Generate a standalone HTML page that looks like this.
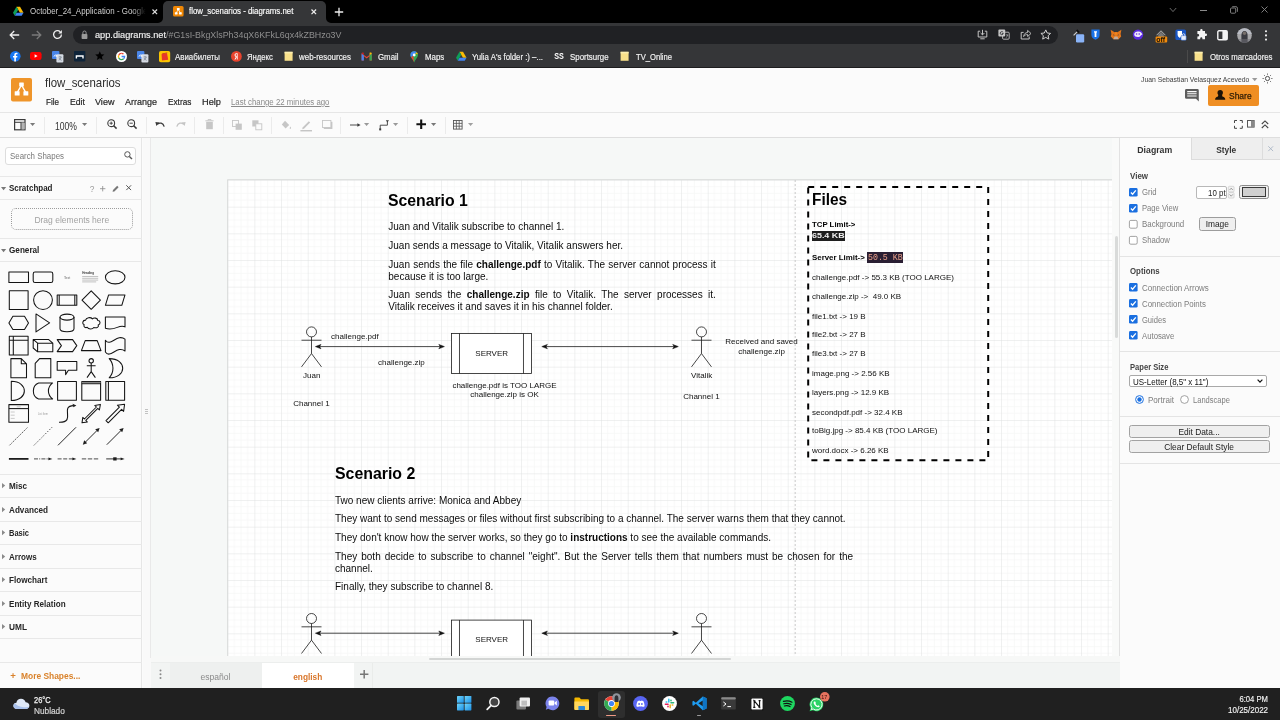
<!DOCTYPE html>
<html><head><meta charset="utf-8"><title>flow_scenarios - diagrams.net</title>
<style>
*{box-sizing:border-box;margin:0;padding:0}
html,body{width:1280px;height:720px;overflow:hidden;background:#fbfbfb;font-family:"Liberation Sans",sans-serif;}
#root{position:relative;width:1280px;height:720px;overflow:hidden;will-change:transform}
.abs{position:absolute}
svg{overflow:visible}
.t{position:absolute;white-space:nowrap;line-height:1;font-family:"Liberation Sans",sans-serif}
</style></head><body><div id="root">
<!-- chrome -->
<div class="abs" style="left:0px;top:0px;width:1280px;height:23px;background:#000"></div>
<div class="abs" style="left:163px;top:1px;width:163px;height:22px;background:#353638;border-radius:5px 5px 0 0"></div>
<svg class="abs" style="left:158px;top:18px;" width="5" height="5" viewBox="0 0 5 5"><path d="M5 0 V5 H0 A5 5 0 0 0 5 0Z" fill="#353638"/></svg>
<svg class="abs" style="left:326px;top:18px;" width="5" height="5" viewBox="0 0 5 5"><path d="M0 0 V5 H5 A5 5 0 0 1 0 0Z" fill="#353638"/></svg>
<div class="abs" style="left:0px;top:22.9px;width:1280px;height:45.1px;background:#353638"></div>
<div class="abs" style="left:0px;top:67.2px;width:1280px;height:1px;background:#1d1d1e"></div>
<svg class="abs" style="left:13.45px;top:6.25px;" width="10.5" height="10.5" viewBox="0 0 10 10"><path d="M3.3 0.6 L6.7 0.6 L10 6.4 L6.6 6.4Z" fill="#fbbc04"/><path d="M3.3 0.6 L0 6.4 L1.7 9.4 L5 3.5Z" fill="#0f9d58"/><path d="M3.4 6.4 L10 6.4 L8.3 9.4 L1.7 9.4Z" fill="#4285f4"/></svg>
<span class="t" style="left:29.60px;top:7.44px;font-size:8.7px;color:#cfcfcf;transform:scaleX(0.9133);transform-origin:0 50%;-webkit-mask-image:linear-gradient(90deg,#000 88%,transparent 99%);">October_24_Application - Google</span>
<svg class="abs" style="left:151.89999999999998px;top:8.7px;" width="5.6" height="5.6" viewBox="0 0 5.6 5.6"><path d="M0.5 0.5 L5.1 5.1 M5.1 0.5 L0.5 5.1" stroke="#ddd" stroke-width="1.2" fill="none"/></svg>
<svg class="abs" style="left:172.6px;top:6.2px;" width="10.6" height="10.6" viewBox="0 0 24 24"><rect x="0" y="0" width="24" height="24" rx="3.62" fill="#f08705"/><path d="M12 8 L7.4 15.6 M12 8 L16.6 15.6" stroke="#fff" stroke-width="1.7"/><rect x="9" y="4.6" width="6" height="5" rx="0.8" fill="#fff"/><rect x="4.2" y="14" width="6.2" height="5" rx="0.8" fill="#fff"/><rect x="13.6" y="14" width="6.2" height="5" rx="0.8" fill="#fff"/></svg>
<span class="t" style="left:189.00px;top:7.44px;font-size:8.7px;color:#fff;transform:scaleX(0.9042);transform-origin:0 50%;-webkit-text-stroke:0.15px #fff;">flow_scenarios - diagrams.net</span>
<svg class="abs" style="left:311.2px;top:8.7px;" width="5.6" height="5.6" viewBox="0 0 5.6 5.6"><path d="M0.5 0.5 L5.1 5.1 M5.1 0.5 L0.5 5.1" stroke="#eee" stroke-width="1.2" fill="none"/></svg>
<svg class="abs" style="left:334px;top:6.5px;" width="10" height="10" viewBox="0 0 10 10"><path d="M5 0.8 V9.2 M0.8 5 H9.2" stroke="#eee" stroke-width="1.3"/></svg>
<svg class="abs" style="left:1168.5px;top:6.5px;" width="8" height="6" viewBox="0 0 8 6"><path d="M0.8 1 L4 4.6 L7.2 1" stroke="#777" stroke-width="0.9" fill="none"/></svg>
<div class="abs" style="left:1199.5px;top:9.5px;width:7px;height:1px;background:#8a8a8a"></div>
<svg class="abs" style="left:1230px;top:6px;" width="8" height="8" viewBox="0 0 8 8"><rect x="0.5" y="2" width="5.2" height="5.2" rx="1" stroke="#8a8a8a" stroke-width="0.9" fill="none"/><path d="M2.2 0.7 H6 A1.4 1.4 0 0 1 7.4 2.1 V5.8" stroke="#8a8a8a" stroke-width="0.9" fill="none"/></svg>
<svg class="abs" style="left:1261.0px;top:6.199999999999999px;" width="7" height="7" viewBox="0 0 7 7"><path d="M0.5 0.5 L6.5 6.5 M6.5 0.5 L0.5 6.5" stroke="#8a8a8a" stroke-width="0.9" fill="none"/></svg>
<svg class="abs" style="left:9.3px;top:29.700000000000003px;" width="11" height="10" viewBox="0 0 11 10"><g ><path d="M10.2 5 H1.4 M5.2 1 L1.2 5 L5.2 9" stroke="#f0f0f0" stroke-width="1.3" fill="none"/></g></svg>
<svg class="abs" style="left:30.5px;top:29.700000000000003px;" width="11" height="10" viewBox="0 0 11 10"><g transform="translate(11,0) scale(-1,1)"><path d="M10.2 5 H1.4 M5.2 1 L1.2 5 L5.2 9" stroke="#7a7a7a" stroke-width="1.3" fill="none"/></g></svg>
<svg class="abs" style="left:51.5px;top:29.2px;" width="11" height="11" viewBox="0 0 11 11"><path d="M9.4 5.5 A3.9 3.9 0 1 1 8.2 2.7" stroke="#f0f0f0" stroke-width="1.3" fill="none"/><path d="M9.9 0.9 V4.4 H6.4Z" fill="#f0f0f0"/></svg>
<div class="abs" style="left:73px;top:25.5px;width:985px;height:18.5px;background:#202124;border-radius:9.5px"></div>
<svg class="abs" style="left:80.5px;top:29.5px;" width="7" height="9.5" viewBox="0 0 7 9.5"><rect x="0.6" y="4" width="5.8" height="5" rx="0.8" fill="#9a9a9a"/><path d="M1.9 4.2 V2.6 A1.6 1.6 0 0 1 5.1 2.6 V4.2" stroke="#9a9a9a" stroke-width="1" fill="none"/></svg>
<span class="t" style="left:94.50px;top:29.94px;font-size:9.8px;color:#f2f2f2;transform:scaleX(0.9376);transform-origin:0 50%;-webkit-text-stroke:0.15px #f2f2f2;">app.diagrams.net</span>
<span class="t" style="left:165.80px;top:29.94px;font-size:9.8px;color:#8f8f8f;transform:scaleX(0.9051);transform-origin:0 50%;">/#G1sI-BkgXlsPh34qX6KFkL6qx4kZBHzo3V</span>
<svg class="abs" style="left:977px;top:28.9px;" width="11" height="11" viewBox="0 0 11 11"><path d="M1.2 2.2 H3.2 M7.8 2.2 H9.8 V8 H1.2 V2.2" stroke="#c4c4c4" stroke-width="1" fill="none"/><path d="M5.5 0.8 V5.8 M3.6 4 L5.5 5.9 L7.4 4" stroke="#c4c4c4" stroke-width="1" fill="none"/><path d="M3.3 9.8 H7.7" stroke="#c4c4c4" stroke-width="1"/></svg>
<svg class="abs" style="left:998px;top:28.9px;" width="12" height="11" viewBox="0 0 12 11"><rect x="4.6" y="3.2" width="6.6" height="7" rx="1" stroke="#c4c4c4" stroke-width="0.9" fill="none"/><rect x="0.4" y="0.6" width="6.8" height="7" rx="1" fill="#c8c8c8"/><path d="M5.2 3.4 C4.6 2.2 2.2 2.4 2.2 4.2 C2.2 6 4.8 6.2 5.3 4.6 H3.8" stroke="#202124" stroke-width="0.8" fill="none"/><path d="M8 6 H10 M9 5.4 V6 M9.8 6 C9.4 7.6 8.6 8.2 7.8 8.6" stroke="#c4c4c4" stroke-width="0.6" fill="none"/></svg>
<svg class="abs" style="left:1019.5px;top:28.9px;" width="12" height="11" viewBox="0 0 12 11"><path d="M3.6 3.4 H1.2 V10 H9.2 V7.6" stroke="#c4c4c4" stroke-width="1" fill="none"/><path d="M3.6 7.6 C3.8 5 5.4 3.6 7.6 3.5 V1.4 L11 4.5 L7.6 7.5 V5.5 C6 5.5 4.6 6.1 3.6 7.6Z" stroke="#c4c4c4" stroke-width="0.9" fill="none"/></svg>
<svg class="abs" style="left:1040.3px;top:28.7px;" width="11.5" height="11" viewBox="0 0 11.5 11"><path d="M5.75 0.9 L7.2 4 L10.6 4.4 L8.1 6.7 L8.8 10.1 L5.75 8.4 L2.7 10.1 L3.4 6.7 L0.9 4.4 L4.3 4Z" stroke="#d0d0d0" stroke-width="1" fill="none" stroke-linejoin="round"/></svg>
<svg class="abs" style="left:1071.5px;top:29px;" width="13" height="14" viewBox="0 0 13 14"><path d="M1.6 6.4 L5.6 2.4" stroke="#cfcfcf" stroke-width="1.2"/><path d="M4.6 1 L7.2 3.6" stroke="#111" stroke-width="1.8"/><rect x="4" y="5.2" width="8.2" height="8.2" rx="1.2" fill="#8ab4f8"/></svg>
<svg class="abs" style="left:1090.5px;top:29px;" width="9" height="11" viewBox="0 0 9 11"><path d="M0.4 0.4 H8.6 V6 C8.6 8.4 6.6 10 4.5 10.8 C2.4 10 0.4 8.4 0.4 6Z" fill="#1a73e8"/><path d="M3 2.2 H6 V3.4 H5.4 V8 H3.6 V3.4 H3Z" fill="#fff"/></svg>
<svg class="abs" style="left:1109.5px;top:29px;" width="12" height="11" viewBox="0 0 12 11"><path d="M0.6 0.8 L4.6 3.2 H7.4 L11.4 0.8 L10.6 5 L11.2 7.6 L8.6 10.2 H3.4 L0.8 7.6 L1.4 5Z" fill="#e2761b"/><path d="M3.4 10.2 L4.6 7.6 H7.4 L8.6 10.2Z" fill="#c0ad9e"/><path d="M4.6 3.2 L6 7 L7.4 3.2Z" fill="#f6851b"/><path d="M3.2 5.2 L4.6 6.2 L3.6 6.6Z M8.8 5.2 L7.4 6.2 L8.4 6.6Z" fill="#233447"/></svg>
<svg class="abs" style="left:1131.5px;top:29px;" width="12" height="12" viewBox="0 0 12 12"><circle cx="6" cy="5.6" r="5.2" fill="#5b2be0"/><path d="M2.2 5.6 C2.2 3.2 4.4 2.4 6.4 2.6 C8.6 2.8 10 4.2 10.4 5.6 C9.6 6 8.6 6.2 8 7.6 C6 8.6 2.4 8.2 2.2 5.6Z" fill="#f1eafc"/><circle cx="4.6" cy="5" r="0.8" fill="#5b2be0"/><circle cx="7.2" cy="5" r="0.8" fill="#5b2be0"/></svg>
<svg class="abs" style="left:1153.5px;top:29px;" width="14" height="14" viewBox="0 0 14 14"><path d="M7 1.2 L12 6.2 H10.6 L7 3 L3.4 6.2 H2Z" fill="#9a9a9a"/><path d="M4.2 5.8 L7 3.4 L9.8 5.8 V8 H4.2Z" fill="#777"/><rect x="1.6" y="7.6" width="11.6" height="6" rx="1" fill="#f28b0c"/></svg>
<span class="t" style="left:1155.68px;top:35.93px;font-size:7.4px;color:#1a1000;font-weight:700;transform:scaleX(0.9525);transform-origin:50% 50%;">off</span>
<svg class="abs" style="left:1174.5px;top:29px;" width="12" height="12" viewBox="0 0 12 12"><rect x="0.4" y="0.4" width="10.6" height="10.6" rx="1.6" fill="#1a56c4"/><path d="M2.6 2 H7 V5.6 C7 7.4 5.8 8.4 4.8 8.9 C3.8 8.4 2.6 7.4 2.6 5.6Z" fill="#fff"/><rect x="6" y="6.6" width="5.2" height="4.6" rx="0.8" fill="#e8eefc" stroke="#1a56c4" stroke-width="0.5"/><path d="M7.3 6.8 V6 A1.3 1.3 0 0 1 9.9 6 V6.8" stroke="#e8eefc" stroke-width="0.8" fill="none"/></svg>
<svg class="abs" style="left:1195.5px;top:29.3px;" width="11" height="11" viewBox="0 0 11 11"><path d="M4.2 1.2 A1.2 1.2 0 0 1 6.6 1.2 V2 H9 V4.6 H9.8 A1.25 1.25 0 0 1 9.8 7.1 H9 V10.2 H6.4 V9.4 A1.1 1.1 0 0 0 4.2 9.4 V10.2 H1.4 V7.4 H2 A1.2 1.2 0 0 0 2 5 H1.4 V2 H4.2Z" fill="#f4f4f4"/></svg>
<svg class="abs" style="left:1217px;top:29.5px;" width="11" height="10.5" viewBox="0 0 11 10.5"><rect x="0.8" y="0.8" width="9.4" height="8.9" rx="1.2" fill="none" stroke="#f4f4f4" stroke-width="1.4"/><rect x="5.4" y="0.8" width="4.8" height="8.9" fill="#f4f4f4"/></svg>
<svg class="abs" style="left:1236.5px;top:27.5px;" width="15" height="15" viewBox="0 0 15 15"><defs><clipPath id="av"><circle cx="7.5" cy="7.5" r="7.3"/></clipPath></defs><circle cx="7.5" cy="7.5" r="7.3" fill="#a9a9ab"/><g clip-path="url(#av)"><rect x="0" y="0" width="15" height="6" fill="#b9bcc4"/><path d="M4.4 15 V7.4 C4.4 4.6 5.6 3 7.5 3 C9.4 3 10.6 4.6 10.6 7.4 V15Z" fill="#3a3b42"/><circle cx="7.5" cy="5.3" r="1.7" fill="#77706c"/><path d="M0 11 H15 V15 H0Z" fill="#6f7076" opacity="0.55"/></g></svg>
<svg class="abs" style="left:1263.5px;top:28.5px;" width="4" height="13" viewBox="0 0 4 13"><circle cx="2" cy="2.2" r="1.05" fill="#f0f0f0"/><circle cx="2" cy="6.4" r="1.05" fill="#f0f0f0"/><circle cx="2" cy="10.6" r="1.05" fill="#f0f0f0"/></svg>
<svg class="abs" style="left:9.5px;top:50.9px;" width="10.6" height="10.6" viewBox="0 0 10.6 10.6"><circle cx="5.3" cy="5.3" r="5.3" fill="#1877f2"/><path d="M5.9 10.6 V6.4 H7.2 L7.4 4.9 H5.9 V4 C5.9 3.5 6.1 3.2 6.8 3.2 H7.5 V1.9 C7.3 1.9 6.8 1.8 6.3 1.8 C5.1 1.8 4.3 2.5 4.3 3.8 V4.9 H3 V6.4 H4.3 V10.5Z" fill="#fff"/></svg>
<svg class="abs" style="left:30.3px;top:52.3px;" width="11.6" height="8" viewBox="0 0 11.6 8"><rect x="0" y="0" width="11.6" height="8" rx="2.2" fill="#f00"/><path d="M4.6 2.2 L7.6 4 L4.6 5.8Z" fill="#fff"/></svg>
<svg class="abs" style="left:51.8px;top:50.8px;" width="11.5" height="11.5" viewBox="0 0 11.5 11.5"><rect x="0" y="0" width="7.4" height="8" rx="1" fill="#4a86e8"/><rect x="4.4" y="3.2" width="7" height="8.2" rx="1" fill="#d6dbe3"/><path d="M2 5.6 C2 3.6 5.2 3.6 5.2 5.2 H3.6" stroke="#fff" stroke-width="0.9" fill="none"/><path d="M6.6 6 H9.6 M8.1 5.2 V6 M9.2 6 C8.8 7.8 7.6 8.8 6.6 9.2 M7 7 C7.6 8.2 8.6 9 9.6 9.4" stroke="#5f6b7a" stroke-width="0.6" fill="none"/></svg>
<svg class="abs" style="left:73.5px;top:51px;" width="11.4" height="10.4" viewBox="0 0 11.4 10.4"><rect x="0" y="0" width="11.4" height="10.4" rx="0.8" fill="#0e2338"/><path d="M2.4 7.6 V5 H9 V7.6" stroke="#fff" stroke-width="1.4" fill="none"/></svg>
<svg class="abs" style="left:95.2px;top:51.4px;" width="9.6" height="9.2" viewBox="0 0 9.6 9.2"><path d="M4.8 0.2 L6.1 3.2 L9.4 3.5 L6.9 5.7 L7.7 8.9 L4.8 7.2 L1.9 8.9 L2.7 5.7 L0.2 3.5 L3.5 3.2Z" fill="#000"/></svg>
<svg class="abs" style="left:115.6px;top:50.8px;" width="11" height="11" viewBox="0 0 11 11"><circle cx="5.5" cy="5.5" r="5.5" fill="#fff"/><path d="M5.5 2.4 A3.1 3.1 0 0 0 2.7 4.2" stroke="#ea4335" stroke-width="1.3" fill="none"/><path d="M2.7 4.2 A3.1 3.1 0 0 0 2.7 6.8" stroke="#fbbc05" stroke-width="1.3" fill="none"/><path d="M2.7 6.8 A3.1 3.1 0 0 0 7.6 7.8" stroke="#34a853" stroke-width="1.3" fill="none"/><path d="M7.6 7.8 A3.1 3.1 0 0 0 8.6 5.5 H5.6" stroke="#4285f4" stroke-width="1.3" fill="none"/><path d="M5.5 2.4 A3.1 3.1 0 0 1 7.5 3.1" stroke="#ea4335" stroke-width="1.3" fill="none"/></svg>
<svg class="abs" style="left:137px;top:50.8px;" width="11.5" height="11.5" viewBox="0 0 11.5 11.5"><rect x="0" y="0" width="7.4" height="8" rx="1" fill="#4a86e8"/><rect x="4.4" y="3.2" width="7" height="8.2" rx="1" fill="#d6dbe3"/><path d="M2 5.6 C2 3.6 5.2 3.6 5.2 5.2 H3.6" stroke="#fff" stroke-width="0.9" fill="none"/><path d="M6.6 6 H9.6 M8.1 5.2 V6 M9.2 6 C8.8 7.8 7.6 8.8 6.6 9.2 M7 7 C7.6 8.2 8.6 9 9.6 9.4" stroke="#5f6b7a" stroke-width="0.6" fill="none"/></svg>
<svg class="abs" style="left:158.5px;top:50.6px;" width="11.2" height="11.2" viewBox="0 0 11.2 11.2"><rect x="0" y="0" width="11.2" height="11.2" rx="1.8" fill="#fbc400"/><path d="M2.6 3 L8 2 L9.2 8.8 L3 9.6Z" fill="#e8362a"/><path d="M2.6 3 L3.6 2.2 L8.6 1.6 L8 2Z" fill="#b9261d"/></svg>
<span class="t" style="left:174.50px;top:52.60px;font-size:8.8px;color:#f1f1f1;transform:scaleX(0.8928);transform-origin:0 50%;-webkit-text-stroke:0.18px #f1f1f1;">Авиабилеты</span>
<svg class="abs" style="left:230.6px;top:50.8px;" width="10.8" height="10.8" viewBox="0 0 10.8 10.8"><circle cx="5.4" cy="5.4" r="5.4" fill="#e8432d"/><path d="M6.6 2.2 H5.4 C4.2 2.2 3.6 3 3.6 4 C3.6 5 4.1 5.5 4.8 6 L3.4 8.6 H4.5 L5.8 6.1 V8.6 H6.7Z M5.8 5.5 C5 5.4 4.6 4.9 4.6 4 C4.6 3.3 5 3 5.5 3 H5.8Z" fill="#fff"/></svg>
<span class="t" style="left:246.50px;top:52.60px;font-size:8.8px;color:#f1f1f1;transform:scaleX(0.8719);transform-origin:0 50%;-webkit-text-stroke:0.18px #f1f1f1;">Яндекс</span>
<svg class="abs" style="left:283.79999999999995px;top:51.0px;" width="9.2" height="10.4" viewBox="0 0 9.2 10.4"><path d="M0.6 0.8 H8.6 V9.8 H0.6Z" fill="#f8e08a"/><path d="M0.6 0.8 H8.6 V2.4 H0.6Z" fill="#fbeeb0"/></svg>
<span class="t" style="left:299.00px;top:52.60px;font-size:8.8px;color:#f1f1f1;transform:scaleX(0.9010);transform-origin:0 50%;-webkit-text-stroke:0.18px #f1f1f1;">web-resources</span>
<svg class="abs" style="left:361.4px;top:52px;" width="11.4" height="8.6" viewBox="0 0 11.4 8.6"><path d="M0.6 8.4 V1.2 L5.7 5 L10.8 1.2 V8.4 H8.6 V4.2 L5.7 6.6 L2.8 4.2 V8.4Z" fill="#ea4335"/><path d="M0.6 8.4 V1.6 L2.8 3.2 V8.4Z" fill="#4285f4"/><path d="M10.8 8.4 V1.6 L8.6 3.2 V8.4Z" fill="#34a853"/><path d="M0.6 1.6 C0.6 0.4 2 0 2.8 0.8 V3.2Z" fill="#c5221f"/><path d="M10.8 1.6 C10.8 0.4 9.4 0 8.6 0.8 V3.2Z" fill="#fbbc04"/></svg>
<span class="t" style="left:378.00px;top:52.60px;font-size:8.8px;color:#f1f1f1;transform:scaleX(0.8921);transform-origin:0 50%;-webkit-text-stroke:0.18px #f1f1f1;">Gmail</span>
<svg class="abs" style="left:410.4px;top:50.6px;" width="8.4" height="11.6" viewBox="0 0 8.4 11.6"><path d="M4.2 0.3 C1.9 0.3 0.4 2 0.4 4 C0.4 6.6 3.2 8.4 4.2 11.4 C5.2 8.4 8 6.6 8 4 C8 2 6.5 0.3 4.2 0.3Z" fill="#34a853"/><path d="M4.2 0.3 C1.9 0.3 0.4 2 0.4 4 C0.4 4.8 0.7 5.6 1.1 6.2 L6.8 1.3 C6.2 0.7 5.3 0.3 4.2 0.3Z" fill="#4285f4"/><path d="M6.8 1.3 L5.2 2.8 L7.9 3.3 C7.8 2.5 7.4 1.8 6.8 1.3Z" fill="#fbbc04"/><path d="M1.1 6.2 L3.2 4.4 L4.2 11.4 C3.4 9 2 7.8 1.1 6.2Z" fill="#ea4335"/><circle cx="4.2" cy="4" r="1.4" fill="#fff"/></svg>
<span class="t" style="left:425.30px;top:52.60px;font-size:8.8px;color:#f1f1f1;transform:scaleX(0.8922);transform-origin:0 50%;-webkit-text-stroke:0.18px #f1f1f1;">Maps</span>
<svg class="abs" style="left:456.15px;top:51.15px;" width="10.5" height="10.5" viewBox="0 0 10 10"><path d="M3.3 0.6 L6.7 0.6 L10 6.4 L6.6 6.4Z" fill="#fbbc04"/><path d="M3.3 0.6 L0 6.4 L1.7 9.4 L5 3.5Z" fill="#0f9d58"/><path d="M3.4 6.4 L10 6.4 L8.3 9.4 L1.7 9.4Z" fill="#4285f4"/></svg>
<span class="t" style="left:472.00px;top:52.60px;font-size:8.8px;color:#f1f1f1;transform:scaleX(0.8881);transform-origin:0 50%;-webkit-text-stroke:0.18px #f1f1f1;">Yulia A's folder :) –...</span>
<span class="t" style="left:553.00px;top:52.41px;font-size:9px;color:#fff;font-weight:700;transform:scaleX(0.7996);transform-origin:50% 50%;">SS</span>
<span class="t" style="left:570.00px;top:52.60px;font-size:8.8px;color:#f1f1f1;transform:scaleX(0.8967);transform-origin:0 50%;-webkit-text-stroke:0.18px #f1f1f1;">Sportsurge</span>
<svg class="abs" style="left:620.4px;top:51.0px;" width="9.2" height="10.4" viewBox="0 0 9.2 10.4"><path d="M0.6 0.8 H8.6 V9.8 H0.6Z" fill="#f8e08a"/><path d="M0.6 0.8 H8.6 V2.4 H0.6Z" fill="#fbeeb0"/></svg>
<span class="t" style="left:636.00px;top:52.60px;font-size:8.8px;color:#f1f1f1;transform:scaleX(0.8659);transform-origin:0 50%;-webkit-text-stroke:0.18px #f1f1f1;">TV_Online</span>
<div class="abs" style="left:1186.5px;top:49.5px;width:1px;height:13px;background:#4a4a4a"></div>
<svg class="abs" style="left:1194.2px;top:51.0px;" width="9.2" height="10.4" viewBox="0 0 9.2 10.4"><path d="M0.6 0.8 H8.6 V9.8 H0.6Z" fill="#f8e08a"/><path d="M0.6 0.8 H8.6 V2.4 H0.6Z" fill="#fbeeb0"/></svg>
<span class="t" style="left:1210.00px;top:52.60px;font-size:8.8px;color:#f1f1f1;transform:scaleX(0.8875);transform-origin:0 50%;-webkit-text-stroke:0.18px #f1f1f1;">Otros marcadores</span>
<!-- apphead -->
<div class="abs" style="left:0px;top:68px;width:1280px;height:44px;background:#fbfbfb"></div>
<div class="abs" style="left:0px;top:111.5px;width:1280px;height:1px;background:#e6e6e6"></div>
<div class="abs" style="left:0px;top:112.5px;width:1280px;height:24.5px;background:#fbfbfb"></div>
<div class="abs" style="left:0px;top:137px;width:1280px;height:1px;background:#dedede"></div>
<svg class="abs" style="left:11px;top:78.1px;" width="21" height="23.6" viewBox="0 0 21 23.6"><rect x="0" y="0" width="21" height="23.6" rx="2" fill="#ef952a"/><path d="M10.5 7 L6.2 14.6 M10.5 7 L14.8 14.6" stroke="#fff" stroke-width="1.4"/><rect x="8.2" y="4.6" width="4.6" height="3.8" rx="0.5" fill="#fff"/><rect x="3.7" y="13.3" width="4.9" height="4.1" rx="0.5" fill="#fff"/><rect x="12.4" y="13.3" width="4.9" height="4.1" rx="0.5" fill="#fff"/></svg>
<span class="t" style="left:45.30px;top:77.36px;font-size:12.4px;color:#2d2d2d;transform:scaleX(0.9217);transform-origin:0 50%;">flow_scenarios</span>
<span class="t" style="left:45.60px;top:97.32px;font-size:9.4px;color:#262626;transform:scaleX(0.8582);transform-origin:0 50%;-webkit-text-stroke:0.2px #262626;">File</span>
<span class="t" style="left:69.70px;top:97.32px;font-size:9.4px;color:#262626;transform:scaleX(0.9260);transform-origin:0 50%;-webkit-text-stroke:0.2px #262626;">Edit</span>
<span class="t" style="left:95.30px;top:97.32px;font-size:9.4px;color:#262626;transform:scaleX(0.9650);transform-origin:0 50%;-webkit-text-stroke:0.2px #262626;">View</span>
<span class="t" style="left:125.00px;top:97.32px;font-size:9.4px;color:#262626;transform:scaleX(0.9569);transform-origin:0 50%;-webkit-text-stroke:0.2px #262626;">Arrange</span>
<span class="t" style="left:168.00px;top:97.32px;font-size:9.4px;color:#262626;transform:scaleX(0.8784);transform-origin:0 50%;-webkit-text-stroke:0.2px #262626;">Extras</span>
<span class="t" style="left:202.00px;top:97.32px;font-size:9.4px;color:#262626;transform:scaleX(0.9827);transform-origin:0 50%;-webkit-text-stroke:0.2px #262626;">Help</span>
<span class="t" style="left:231.00px;top:97.82px;font-size:8.3px;color:#8a8a8a;transform:scaleX(0.9446);transform-origin:0 50%;text-decoration:underline;text-decoration-thickness:0.6px;text-underline-offset:1px;">Last change 22 minutes ago</span>
<span class="t" style="left:1141.00px;top:75.54px;font-size:7.6px;color:#3c3c3c;transform:scaleX(0.8970);transform-origin:0 50%;">Juan Sebastian Velasquez Acevedo</span>
<svg class="abs" style="left:1252.3px;top:77.7px;" width="5.4" height="3.2" viewBox="0 0 5.4 3.2"><path d="M0 0 H5.4 L2.7 3.2Z" fill="#9a9a9a"/></svg>
<svg class="abs" style="left:1261.6px;top:72.6px;" width="11" height="11" viewBox="0 0 11 11"><circle cx="5.5" cy="5.5" r="2.1" stroke="#505050" stroke-width="1" fill="none"/><path d="M9.20 5.50 L10.50 5.50" stroke="#606060" stroke-width="0.9"/><path d="M8.12 8.12 L9.04 9.04" stroke="#606060" stroke-width="0.9"/><path d="M5.50 9.20 L5.50 10.50" stroke="#606060" stroke-width="0.9"/><path d="M2.88 8.12 L1.96 9.04" stroke="#606060" stroke-width="0.9"/><path d="M1.80 5.50 L0.50 5.50" stroke="#606060" stroke-width="0.9"/><path d="M2.88 2.88 L1.96 1.96" stroke="#606060" stroke-width="0.9"/><path d="M5.50 1.80 L5.50 0.50" stroke="#606060" stroke-width="0.9"/><path d="M8.12 2.88 L9.04 1.96" stroke="#606060" stroke-width="0.9"/></svg>
<svg class="abs" style="left:1185px;top:89.4px;" width="14.2" height="12.6" viewBox="0 0 14.2 12.6"><path d="M1.4 0 H12.4 A1.4 1.4 0 0 1 13.8 1.4 V12.4 L11 9.8 H1.4 A1.4 1.4 0 0 1 0 8.4 V1.4 A1.4 1.4 0 0 1 1.4 0Z" fill="#5c5c5c"/><path d="M2.2 2.6 H11.6 M2.2 4.8 H11.6 M2.2 7 H11.6" stroke="#fbfbfb" stroke-width="1.1"/></svg>
<div class="abs" style="left:1208px;top:84.8px;width:50.6px;height:21px;background:#ef8e23;border-radius:2px"></div>
<svg class="abs" style="left:1215.4px;top:90.4px;" width="10.4" height="9.8" viewBox="0 0 10.4 9.8"><circle cx="5.2" cy="2.8" r="2.7" fill="#1a1208"/><path d="M3.4 4.6 H7 L7.4 6.4 C9.6 6.9 10.2 7.8 10.3 9.8 H0.1 C0.2 7.8 0.8 6.9 3 6.4Z" fill="#1a1208"/></svg>
<span class="t" style="left:1229.00px;top:91.23px;font-size:9.6px;color:#2a1a05;transform:scaleX(0.8822);transform-origin:0 50%;-webkit-text-stroke:0.25px #2a1a05;">Share</span>
<svg class="abs" style="left:14.3px;top:118.8px;" width="11.6" height="11.4" viewBox="0 0 11.6 11.4"><rect x="0.6" y="0.6" width="10.4" height="10.2" fill="none" stroke="#3a3a3a" stroke-width="1.2"/><path d="M0.6 3.3 H11" stroke="#3a3a3a" stroke-width="1"/><rect x="7.2" y="3.6" width="3.4" height="6.8" fill="#b4b4b4"/><path d="M7 3.3 V10.8" stroke="#3a3a3a" stroke-width="1"/></svg>
<svg class="abs" style="left:30.199999999999996px;top:123.39999999999999px;" width="5.2" height="3" viewBox="0 0 5.2 3"><path d="M0 0 H5.2 L2.6 3Z" fill="#7a7a7a"/></svg>
<div class="abs" style="left:44.1px;top:116.5px;width:1px;height:17px;background:#ebebeb"></div>
<span class="t" style="left:54.70px;top:120.98px;font-size:10.6px;color:#333;transform:scaleX(0.8115);transform-origin:0 50%;">100%</span>
<svg class="abs" style="left:82.4px;top:123.39999999999999px;" width="5.2" height="3" viewBox="0 0 5.2 3"><path d="M0 0 H5.2 L2.6 3Z" fill="#7a7a7a"/></svg>
<div class="abs" style="left:96.1px;top:116.5px;width:1px;height:17px;background:#ebebeb"></div>
<svg class="abs" style="left:106.9px;top:119.19999999999999px;" width="10" height="10" viewBox="0 0 10 10"><circle cx="4.2" cy="4.2" r="3.4" stroke="#3a3a3a" stroke-width="1.1" fill="none"/><path d="M6.7 6.7 L9.6 9.6" stroke="#3a3a3a" stroke-width="1.5"/><path d="M2.6 4.2 H5.8" stroke="#3a3a3a" stroke-width="0.9"/><path d="M4.2 2.6 V5.8" stroke="#3a3a3a" stroke-width="0.9"/></svg>
<svg class="abs" style="left:127.2px;top:119.19999999999999px;" width="10" height="10" viewBox="0 0 10 10"><circle cx="4.2" cy="4.2" r="3.4" stroke="#3a3a3a" stroke-width="1.1" fill="none"/><path d="M6.7 6.7 L9.6 9.6" stroke="#3a3a3a" stroke-width="1.5"/><path d="M2.6 4.2 H5.8" stroke="#3a3a3a" stroke-width="0.9"/></svg>
<div class="abs" style="left:145.5px;top:116.5px;width:1px;height:17px;background:#ebebeb"></div>
<svg class="abs" style="left:155px;top:121.0px;" width="10" height="7" viewBox="0 0 10 7"><g ><path d="M2.4 3.2 C4.6 1.2 8 1.8 9.2 5.6" stroke="#3a3a3a" stroke-width="1.3" fill="none"/><path d="M0.4 1 L4.4 1.6 L1.4 5Z" fill="#3a3a3a"/></g></svg>
<svg class="abs" style="left:175.5px;top:121.0px;" width="10" height="7" viewBox="0 0 10 7"><g transform="translate(10,0) scale(-1,1)"><path d="M2.4 3.2 C4.6 1.2 8 1.8 9.2 5.6" stroke="#c4c4c4" stroke-width="1.3" fill="none"/><path d="M0.4 1 L4.4 1.6 L1.4 5Z" fill="#c4c4c4"/></g></svg>
<div class="abs" style="left:193.9px;top:116.5px;width:1px;height:17px;background:#ebebeb"></div>
<svg class="abs" style="left:205px;top:119.4px;" width="9" height="10.6" viewBox="0 0 9 10.6"><path d="M0.4 1.8 H8.6 M3 1.6 V0.6 H6 V1.6" stroke="#c6c6c6" stroke-width="1" fill="none"/><path d="M1.2 2.8 H7.8 V10.2 H1.2Z" fill="#c6c6c6"/></svg>
<div class="abs" style="left:222.5px;top:116.5px;width:1px;height:17px;background:#ebebeb"></div>
<svg class="abs" style="left:232.4px;top:119.6px;" width="10.4" height="10.4" viewBox="0 0 10.4 10.4"><rect x="0.5" y="0.5" width="6" height="6" fill="none" stroke="#c6c6c6" stroke-width="0.9"/><rect x="3.6" y="3.6" width="6.2" height="6.2" fill="#c6c6c6"/></svg>
<svg class="abs" style="left:252.4px;top:119.6px;" width="10.4" height="10.4" viewBox="0 0 10.4 10.4"><rect x="0.3" y="0.3" width="6.2" height="6.2" fill="#c6c6c6"/><rect x="3.8" y="3.8" width="6" height="6" fill="#fbfbfb" stroke="#c6c6c6" stroke-width="0.9"/></svg>
<div class="abs" style="left:271.1px;top:116.5px;width:1px;height:17px;background:#ebebeb"></div>
<svg class="abs" style="left:281px;top:119.6px;" width="10.4" height="9.6" viewBox="0 0 10.4 9.6"><path d="M4 0.8 L8.2 5 L4.6 8.4 L0.8 4.6Z" fill="#c6c6c6"/><path d="M9.4 6.4 C10.4 7.8 10.2 8.8 9.4 8.8 C8.6 8.8 8.4 7.8 9.4 6.4Z" fill="#c6c6c6"/></svg>
<svg class="abs" style="left:300px;top:118.6px;" width="12.4" height="12.4" viewBox="0 0 12.4 12.4"><path d="M2.6 8.4 L8.8 2.2 L10.2 3.6 L4 9.8 L2.2 10.2Z" fill="#c6c6c6"/><path d="M0.4 11.8 H12" stroke="#b4b4b4" stroke-width="1.1"/></svg>
<svg class="abs" style="left:321.6px;top:120px;" width="10.8" height="9.6" viewBox="0 0 10.8 9.6"><rect x="1.8" y="1.8" width="8.6" height="7.2" fill="#c6c6c6"/><rect x="0.5" y="0.5" width="8.4" height="7" fill="#fbfbfb" stroke="#c6c6c6" stroke-width="0.9"/></svg>
<div class="abs" style="left:339.5px;top:116.5px;width:1px;height:17px;background:#ebebeb"></div>
<svg class="abs" style="left:349.6px;top:121.6px;" width="11" height="6" viewBox="0 0 11 6"><path d="M0 3 H9" stroke="#3a3a3a" stroke-width="0.9"/><path d="M10.6 3 L7.4 1.2 V4.8Z" fill="#3a3a3a"/></svg>
<svg class="abs" style="left:363.79999999999995px;top:123.39999999999999px;" width="5.2" height="3" viewBox="0 0 5.2 3"><path d="M0 0 H5.2 L2.6 3Z" fill="#999"/></svg>
<svg class="abs" style="left:378.6px;top:119.8px;" width="11" height="10.4" viewBox="0 0 11 10.4"><path d="M1.2 9 V5.2 H8.4 V1.8" stroke="#3a3a3a" stroke-width="0.9" fill="none"/><path d="M6.8 0.2 H10 L8.4 2.6Z" fill="#3a3a3a"/><rect x="0.2" y="8.4" width="2" height="2" fill="#3a3a3a"/></svg>
<svg class="abs" style="left:393.4px;top:123.39999999999999px;" width="5.2" height="3" viewBox="0 0 5.2 3"><path d="M0 0 H5.2 L2.6 3Z" fill="#999"/></svg>
<div class="abs" style="left:407.0px;top:116.5px;width:1px;height:17px;background:#ebebeb"></div>
<svg class="abs" style="left:415.8px;top:119.4px;" width="10.4" height="10.4" viewBox="0 0 10.4 10.4"><path d="M5.2 0.4 V10 M0.4 5.2 H10" stroke="#111" stroke-width="2.1"/></svg>
<svg class="abs" style="left:431.4px;top:123.39999999999999px;" width="5.2" height="3" viewBox="0 0 5.2 3"><path d="M0 0 H5.2 L2.6 3Z" fill="#777"/></svg>
<div class="abs" style="left:444.9px;top:116.5px;width:1px;height:17px;background:#ebebeb"></div>
<svg class="abs" style="left:453.2px;top:119.8px;" width="9.6" height="9.6" viewBox="0 0 9.6 9.6"><rect x="0.5" y="0.5" width="8.6" height="8.6" fill="none" stroke="#555" stroke-width="0.9"/><path d="M3.4 0.5 V9.1 M6.2 0.5 V9.1 M0.5 3.4 H9.1 M0.5 6.2 H9.1" stroke="#555" stroke-width="0.8"/></svg>
<svg class="abs" style="left:467.79999999999995px;top:123.39999999999999px;" width="5.2" height="3" viewBox="0 0 5.2 3"><path d="M0 0 H5.2 L2.6 3Z" fill="#a0a0a0"/></svg>
<svg class="abs" style="left:1233.6px;top:120px;" width="8.8" height="8.8" viewBox="0 0 8.8 8.8"><path d="M0.5 3 V0.5 H3 M5.8 0.5 H8.3 V3 M8.3 5.8 V8.3 H5.8 M3 8.3 H0.5 V5.8" stroke="#444" stroke-width="1" fill="none"/></svg>
<svg class="abs" style="left:1247.4px;top:120.4px;" width="7.6" height="7.6" viewBox="0 0 7.6 7.6"><rect x="0.5" y="0.5" width="6.6" height="6.6" fill="none" stroke="#555" stroke-width="1"/><rect x="4" y="0.5" width="3.1" height="6.6" fill="#888"/></svg>
<svg class="abs" style="left:1260.6px;top:119.8px;" width="8" height="8.6" viewBox="0 0 8 8.6"><path d="M0.8 4 L4 0.9 L7.2 4 M0.8 8 L4 4.9 L7.2 8" stroke="#444" stroke-width="1.1" fill="none"/></svg>
<!-- sidebar -->
<div class="abs" style="left:0px;top:138px;width:141.5px;height:550px;background:#fbfbfb"></div>
<div class="abs" style="left:141.3px;top:138px;width:1px;height:550px;background:#e6e6e6"></div>
<div class="abs" style="left:142.5px;top:138px;width:8px;height:550px;background:#f9f9f9"></div>
<div class="abs" style="left:150px;top:138px;width:1px;height:520px;background:#e9e9e9"></div>
<svg class="abs" style="left:144.8px;top:409px;" width="3" height="7" viewBox="0 0 3 7"><path d="M0 0.5 H3 M0 2.5 H3 M0 4.5 H3" stroke="#aaa" stroke-width="0.7"/></svg>
<div class="abs" style="left:5.4px;top:147.2px;width:130.6px;height:17.8px;background:#fff;border:1px solid #dddddd;border-radius:3px"></div>
<span class="t" style="left:10.00px;top:151.82px;font-size:8.3px;color:#7a7a7a;transform:scaleX(0.9515);transform-origin:0 50%;">Search Shapes</span>
<svg class="abs" style="left:124px;top:151px;" width="8.6" height="8.6" viewBox="0 0 8.6 8.6"><circle cx="3.4" cy="3.4" r="2.7" stroke="#555" stroke-width="1" fill="none"/><path d="M5.4 5.4 L8 8" stroke="#555" stroke-width="1.4"/></svg>
<div class="abs" style="left:0px;top:176.1px;width:141.5px;height:1px;background:#e8e8e8"></div>
<svg class="abs" style="left:1.1999999999999997px;top:187.2px;" width="5.2" height="3.2" viewBox="0 0 5.2 3.2"><path d="M0 0 H5.2 L2.6 3.2Z" fill="#777"/></svg>
<span class="t" style="left:9.40px;top:184.17px;font-size:9.3px;color:#222;font-weight:700;transform:scaleX(0.8588);transform-origin:0 50%;">Scratchpad</span>
<span class="t" style="left:89.66px;top:184.58px;font-size:8.4px;color:#9a9a9a;">?</span>
<svg class="abs" style="left:99.8px;top:186px;" width="5.4" height="5.4" viewBox="0 0 5.4 5.4"><path d="M2.7 0 V5.4 M0 2.7 H5.4" stroke="#888" stroke-width="0.8"/></svg>
<svg class="abs" style="left:112px;top:184.8px;" width="7.4" height="7.4" viewBox="0 0 7.4 7.4"><path d="M0.6 6.8 L1 5 L5.2 0.8 L6.6 2.2 L2.4 6.4Z" fill="#777"/></svg>
<svg class="abs" style="left:126.4px;top:185.4px;" width="5.4" height="5.4" viewBox="0 0 5.4 5.4"><path d="M0.3 0.3 L5.1 5.1 M5.1 0.3 L0.3 5.1" stroke="#555" stroke-width="1"/></svg>
<div class="abs" style="left:0px;top:198.5px;width:141.5px;height:1px;background:#e8e8e8"></div>
<div class="abs" style="left:10.8px;top:208px;width:122.4px;height:22px;border:1px dotted #9c9c9c;border-radius:5px"></div>
<span class="t" style="left:35.11px;top:215.98px;font-size:8.4px;color:#a2a2a2;transform:scaleX(1.0166);transform-origin:50% 50%;">Drag elements here</span>
<div class="abs" style="left:0px;top:238.0px;width:141.5px;height:1px;background:#e8e8e8"></div>
<svg class="abs" style="left:1.1999999999999997px;top:248.79999999999998px;" width="5.2" height="3.2" viewBox="0 0 5.2 3.2"><path d="M0 0 H5.2 L2.6 3.2Z" fill="#777"/></svg>
<span class="t" style="left:9.40px;top:245.77px;font-size:9.3px;color:#222;font-weight:700;transform:scaleX(0.8777);transform-origin:0 50%;">General</span>
<div class="abs" style="left:0px;top:261.0px;width:141.5px;height:1px;background:#e8e8e8"></div>
<svg class="abs" style="left:0;top:0" width="142" height="480" viewBox="0 0 142 480"><g transform="translate(6.70,265.30)"><rect x="2.2" y="6.8" width="19.6" height="10.4" stroke="#141414" stroke-width="1.05" fill="none" stroke-linejoin="round"/></g><g transform="translate(31.00,265.30)"><rect x="2.2" y="6.8" width="19.6" height="10.4" rx="1.8" stroke="#141414" stroke-width="1.05" fill="none" stroke-linejoin="round"/></g><g transform="translate(55.00,265.30)"><text x="12" y="13.4" font-size="3.4" text-anchor="middle" fill="#666" font-family="Liberation Sans">Text</text></g><g transform="translate(79.20,265.30)"><text x="3" y="9.2" font-size="3" font-weight="700" fill="#333" font-family="Liberation Sans">Heading</text><path d="M3 11.2 H19 M3 13 H19 M3 14.8 H19 M3 16.6 H17" stroke="#bbb" stroke-width="0.9"/></g><g transform="translate(103.20,265.30)"><ellipse cx="12" cy="12" rx="9.8" ry="6.6" stroke="#141414" stroke-width="1.05" fill="none" stroke-linejoin="round"/></g><g transform="translate(6.70,288.10)"><rect x="2.6" y="2.6" width="18.8" height="18.8" stroke="#141414" stroke-width="1.05" fill="none" stroke-linejoin="round"/></g><g transform="translate(31.00,288.10)"><circle cx="12" cy="12" r="9.4" stroke="#141414" stroke-width="1.05" fill="none" stroke-linejoin="round"/></g><g transform="translate(55.00,288.10)"><rect x="2.2" y="6.8" width="19.6" height="10.4" stroke="#141414" stroke-width="1.05" fill="none" stroke-linejoin="round"/><path d="M4.2 6.8 V17.2 M19.8 6.8 V17.2" stroke="#141414" stroke-width="1.05" fill="none" stroke-linejoin="round"/></g><g transform="translate(79.20,288.10)"><path d="M12 2.8 L21.2 12 L12 21.2 L2.8 12Z" stroke="#141414" stroke-width="1.05" fill="none" stroke-linejoin="round"/></g><g transform="translate(103.20,288.10)"><path d="M5.4 6.8 H21.8 L18.6 17.2 H2.2Z" stroke="#141414" stroke-width="1.05" fill="none" stroke-linejoin="round"/></g><g transform="translate(6.70,310.90)"><path d="M6.2 5.4 H17.8 L21.8 12 L17.8 18.6 H6.2 L2.2 12Z" stroke="#141414" stroke-width="1.05" fill="none" stroke-linejoin="round"/></g><g transform="translate(31.00,310.90)"><path d="M5 3 L18.6 12 L5 21Z" stroke="#141414" stroke-width="1.05" fill="none" stroke-linejoin="round"/></g><g transform="translate(55.00,310.90)"><path d="M5 6.2 V17.8 C5 19.6 8 20.8 12 20.8 C16 20.8 19 19.6 19 17.8 V6.2" stroke="#141414" stroke-width="1.05" fill="none" stroke-linejoin="round"/><ellipse cx="12" cy="6.2" rx="7" ry="3" stroke="#141414" stroke-width="1.05" fill="none" stroke-linejoin="round"/></g><g transform="translate(79.20,310.90)"><path d="M6.4 9.2 C3.2 9.2 2.6 13 5 13.8 C3.8 15.6 6.2 17.4 8 16.4 C9.2 18.6 13.4 18.6 14.6 16.6 C17.6 17.6 20 16 19 14 C21.8 13 21.2 9.6 18.6 9.6 C18.6 7 14.6 6.4 13.2 8 C11.6 6 6.8 6.4 6.4 9.2Z" stroke="#141414" stroke-width="1.05" fill="none" stroke-linejoin="round"/></g><g transform="translate(103.20,310.90)"><path d="M2.2 6 H21.8 V16 C16 12.4 12 21 2.2 17.4Z" stroke="#141414" stroke-width="1.05" fill="none" stroke-linejoin="round"/></g><g transform="translate(6.70,333.60)"><rect x="2.6" y="2.6" width="18.8" height="18.8" stroke="#141414" stroke-width="1.05" fill="none" stroke-linejoin="round"/><path d="M6.6 2.6 V21.4 M2.6 6.6 H21.4" stroke="#141414" stroke-width="1.05" fill="none" stroke-linejoin="round"/></g><g transform="translate(31.00,333.60)"><path d="M2.2 5.8 H17.4 L21.8 9.6 V18.2 H6.6 L2.2 14.4Z M2.2 5.8 L6.6 9.6 H21.8 M6.6 9.6 V18.2" stroke="#141414" stroke-width="1.05" fill="none" stroke-linejoin="round"/></g><g transform="translate(55.00,333.60)"><path d="M2.2 6 H17.6 L21.8 12 L17.6 18 H2.2 L6.4 12Z" stroke="#141414" stroke-width="1.05" fill="none" stroke-linejoin="round"/></g><g transform="translate(79.20,333.60)"><path d="M6 7 H18 L21.8 17 H2.2Z" stroke="#141414" stroke-width="1.05" fill="none" stroke-linejoin="round"/></g><g transform="translate(103.20,333.60)"><path d="M2.2 6.6 C7 14 14 -0.6 21.8 5.6 V17.4 C14 11.2 7 25.8 2.2 18.4Z" stroke="#141414" stroke-width="1.05" fill="none" stroke-linejoin="round"/></g><g transform="translate(6.70,356.20)"><path d="M4.2 2.4 H14.6 L19.8 7.6 V21.6 H4.2Z M14.6 2.4 V7.6 H19.8" stroke="#141414" stroke-width="1.05" fill="none" stroke-linejoin="round"/></g><g transform="translate(31.00,356.20)"><path d="M8.6 2.4 H19.8 V21.6 H4.2 V7.2Z" stroke="#141414" stroke-width="1.05" fill="none" stroke-linejoin="round"/></g><g transform="translate(55.00,356.20)"><path d="M2.2 5.2 H21.8 V14 H13.4 L10.6 18.4 V14 H2.2Z" stroke="#141414" stroke-width="1.05" fill="none" stroke-linejoin="round"/></g><g transform="translate(79.20,356.20)"><circle cx="12" cy="4.6" r="2.2" stroke="#141414" stroke-width="1.05" fill="none" stroke-linejoin="round"/><path d="M12 6.8 V15.4 M7.6 9.6 H16.4 M12 15.4 L7.8 21.4 M12 15.4 L16.2 21.4" stroke="#141414" stroke-width="1.05" fill="none" stroke-linejoin="round"/></g><g transform="translate(103.20,356.20)"><path d="M6 2.4 C24 2.4 24 21.6 6 21.6 C11 16 11 8 6 2.4Z" stroke="#141414" stroke-width="1.05" fill="none" stroke-linejoin="round"/></g><g transform="translate(6.70,378.90)"><path d="M4.6 2.4 C22 2.4 22 21.6 4.6 21.6Z" stroke="#141414" stroke-width="1.05" fill="none" stroke-linejoin="round"/></g><g transform="translate(31.00,378.90)"><path d="M7.6 4 H21.6 C16 8.4 16 15.6 21.6 20 H7.6 C0.6 17.4 0.6 6.6 7.6 4Z" stroke="#141414" stroke-width="1.05" fill="none" stroke-linejoin="round"/></g><g transform="translate(55.00,378.90)"><rect x="2.6" y="2.6" width="18.8" height="18.8" stroke="#141414" stroke-width="1.05" fill="none" stroke-linejoin="round"/></g><g transform="translate(79.20,378.90)"><rect x="2.6" y="2.6" width="18.8" height="18.8" stroke="#141414" stroke-width="1.05" fill="none" stroke-linejoin="round"/><path d="M2.6 4.8 H21.4" stroke="#141414" stroke-width="1.05" fill="none" stroke-linejoin="round"/><path d="M2.6 3.6 H21.4" stroke="#888" stroke-width="1.2"/></g><g transform="translate(103.20,378.90)"><rect x="2.6" y="2.6" width="18.8" height="18.8" stroke="#141414" stroke-width="1.05" fill="none" stroke-linejoin="round"/><path d="M5.2 2.6 V21.4" stroke="#141414" stroke-width="1.05" fill="none" stroke-linejoin="round"/></g><g transform="translate(6.70,401.60)"><rect x="2.2" y="3" width="19.6" height="17.6" stroke="#141414" stroke-width="1.05" fill="none" stroke-linejoin="round" stroke-width="1.2"/><path d="M2.2 7 H21.8" stroke="#141414" stroke-width="1.05" fill="none" stroke-linejoin="round"/><path d="M4 10.4 H8 M4 13.6 H8 M4 16.8 H8 M10 5.2 H14" stroke="#999" stroke-width="0.5"/></g><g transform="translate(31.00,401.60)"><text x="12" y="13.2" font-size="2.6" text-anchor="middle" fill="#999" font-family="Liberation Sans">List Item</text></g><g transform="translate(55.00,401.60)"><path d="M4 20.6 C22 21 4 4.4 18.6 4"  stroke="#141414" stroke-width="1.1" fill="none"/><path d="M21.4 3.8 L17.6 2.2 L18.4 5.6Z" fill="#1e1e1e"/></g><g transform="translate(79.20,401.60)"><path d="M2.8 21.2 L3.6 15.8 L5.2 17.4 L17.2 5.4 L15.6 3.8 L21.2 2.8 L20.2 8.4 L18.6 6.8 L6.6 18.8 L8.2 20.4Z" stroke="#141414" stroke-width="1.05" fill="none" stroke-linejoin="round"/></g><g transform="translate(103.20,401.60)"><path d="M2.8 19 L16.2 5.6 L14.2 3.6 L21.4 2.6 L20.4 9.8 L18.4 7.8 L5 21.2Z" stroke="#141414" stroke-width="1.05" fill="none" stroke-linejoin="round"/></g><g transform="translate(6.70,424.30)"><path d="M2.8 21 L21 3" stroke="#1e1e1e" stroke-width="0.7" stroke-dasharray="1.6 0.9" fill="none"/></g><g transform="translate(31.00,424.30)"><path d="M3 21 L21 3" stroke="#1e1e1e" stroke-width="1" stroke-dasharray="1 1.7" fill="none"/></g><g transform="translate(55.00,424.30)"><path d="M3 21 L21 3" stroke="#1e1e1e" stroke-width="0.95" fill="none"/></g><g transform="translate(79.20,424.30)"><path d="M6 18 L18 6" stroke="#1e1e1e" stroke-width="0.95"/><path d="M3.6 20.4 L5 16 L8 19Z M20.4 3.6 L16 5 L19 8Z" fill="#1e1e1e"/></g><g transform="translate(103.20,424.30)"><path d="M3.6 20.4 L18 6" stroke="#1e1e1e" stroke-width="0.95"/><path d="M20.4 3.6 L16 5 L19 8Z" fill="#1e1e1e"/></g><g transform="translate(6.70,446.90)"><path d="M2.2 12 H21.8" stroke="#111" stroke-width="1.7"/></g><g transform="translate(31.00,446.90)"><path d="M3 12 H18" stroke="#1e1e1e" stroke-width="0.8" stroke-dasharray="4 1.2 1 1.2"/><path d="M21.4 12 L17.4 10.6 V13.4Z" fill="#1e1e1e"/></g><g transform="translate(55.00,446.90)"><path d="M2.6 12 H18" stroke="#1e1e1e" stroke-width="0.8" stroke-dasharray="4 1.6"/><path d="M21.4 12 L17.4 10.6 V13.4Z" fill="#1e1e1e"/></g><g transform="translate(79.20,446.90)"><path d="M2.6 12 H20.6" stroke="#1e1e1e" stroke-width="0.8" stroke-dasharray="4.4 1.6"/></g><g transform="translate(103.20,446.90)"><path d="M3 12 H18" stroke="#1e1e1e" stroke-width="0.9"/><path d="M21.4 12 L17.4 10.6 V13.4Z" fill="#1e1e1e"/><rect x="10" y="10.4" width="3.4" height="3.2" fill="#1e1e1e"/></g></svg>
<div class="abs" style="left:0px;top:473.5px;width:141.5px;height:1px;background:#e8e8e8"></div>
<svg class="abs" style="left:2.4px;top:483.4px;" width="3.2" height="5.2" viewBox="0 0 3.2 5.2"><path d="M0 0 V5.2 L3.2 2.6Z" fill="#8a8a8a"/></svg>
<span class="t" style="left:9.40px;top:482.47px;font-size:9.3px;color:#262626;font-weight:700;transform:scaleX(0.8706);transform-origin:0 50%;">Misc</span>
<div class="abs" style="left:0px;top:497.0px;width:141.5px;height:1px;background:#e8e8e8"></div>
<svg class="abs" style="left:2.4px;top:506.9px;" width="3.2" height="5.2" viewBox="0 0 3.2 5.2"><path d="M0 0 V5.2 L3.2 2.6Z" fill="#8a8a8a"/></svg>
<span class="t" style="left:9.40px;top:505.97px;font-size:9.3px;color:#262626;font-weight:700;transform:scaleX(0.8775);transform-origin:0 50%;">Advanced</span>
<div class="abs" style="left:0px;top:520.5px;width:141.5px;height:1px;background:#e8e8e8"></div>
<svg class="abs" style="left:2.4px;top:530.4px;" width="3.2" height="5.2" viewBox="0 0 3.2 5.2"><path d="M0 0 V5.2 L3.2 2.6Z" fill="#8a8a8a"/></svg>
<span class="t" style="left:9.40px;top:529.47px;font-size:9.3px;color:#262626;font-weight:700;transform:scaleX(0.8059);transform-origin:0 50%;">Basic</span>
<div class="abs" style="left:0px;top:544.0px;width:141.5px;height:1px;background:#e8e8e8"></div>
<svg class="abs" style="left:2.4px;top:553.9px;" width="3.2" height="5.2" viewBox="0 0 3.2 5.2"><path d="M0 0 V5.2 L3.2 2.6Z" fill="#8a8a8a"/></svg>
<span class="t" style="left:9.40px;top:552.97px;font-size:9.3px;color:#262626;font-weight:700;transform:scaleX(0.8614);transform-origin:0 50%;">Arrows</span>
<div class="abs" style="left:0px;top:567.5px;width:141.5px;height:1px;background:#e8e8e8"></div>
<svg class="abs" style="left:2.4px;top:577.4px;" width="3.2" height="5.2" viewBox="0 0 3.2 5.2"><path d="M0 0 V5.2 L3.2 2.6Z" fill="#8a8a8a"/></svg>
<span class="t" style="left:9.40px;top:576.47px;font-size:9.3px;color:#262626;font-weight:700;transform:scaleX(0.8743);transform-origin:0 50%;">Flowchart</span>
<div class="abs" style="left:0px;top:591.0px;width:141.5px;height:1px;background:#e8e8e8"></div>
<svg class="abs" style="left:2.4px;top:600.9px;" width="3.2" height="5.2" viewBox="0 0 3.2 5.2"><path d="M0 0 V5.2 L3.2 2.6Z" fill="#8a8a8a"/></svg>
<span class="t" style="left:9.40px;top:599.97px;font-size:9.3px;color:#262626;font-weight:700;transform:scaleX(0.8693);transform-origin:0 50%;">Entity Relation</span>
<div class="abs" style="left:0px;top:614.5px;width:141.5px;height:1px;background:#e8e8e8"></div>
<svg class="abs" style="left:2.4px;top:624.4px;" width="3.2" height="5.2" viewBox="0 0 3.2 5.2"><path d="M0 0 V5.2 L3.2 2.6Z" fill="#8a8a8a"/></svg>
<span class="t" style="left:9.40px;top:623.47px;font-size:9.3px;color:#262626;font-weight:700;transform:scaleX(0.8936);transform-origin:0 50%;">UML</span>
<div class="abs" style="left:0px;top:638.1px;width:141.5px;height:1px;background:#e8e8e8"></div>
<div class="abs" style="left:0px;top:662.0px;width:141.5px;height:1px;background:#e8e8e8"></div>
<span class="t" style="left:10.20px;top:671.23px;font-size:9.6px;color:#d9822b;font-weight:700;">+</span>
<span class="t" style="left:21.40px;top:671.57px;font-size:9.3px;color:#d9822b;font-weight:700;transform:scaleX(0.9050);transform-origin:0 50%;">More Shapes...</span>
<!-- canvas -->
<div class="abs" style="left:150.5px;top:138px;width:969px;height:520px;background:#f6f8f7"></div>
<svg class="abs" style="left:227px;top:179px;overflow:hidden" width="885.3" height="477.3" viewBox="227 179 885.3 477.3"><defs><pattern id="grid" width="26.6667" height="26.6667" patternUnits="userSpaceOnUse"><path d="M6.667 0 V26.667 M0 6.667 H26.667" stroke="#f5f6f5" stroke-width="0.7"/><path d="M13.333 0 V26.667 M0 13.333 H26.667" stroke="#f5f6f5" stroke-width="0.7"/><path d="M20.000 0 V26.667 M0 20.000 H26.667" stroke="#f5f6f5" stroke-width="0.7"/><path d="M0 0 V26.667 M0 0 H26.667" stroke="#dfe1e0" stroke-width="0.95"/></pattern></defs><g transform="translate(227.7,180.0)"><rect x="0" y="0" width="884.60" height="476.30" fill="#fff"/><rect x="0" y="0" width="884.60" height="476.30" fill="url(#grid)"/><path d="M-0.2 476.30 V-0.4 H884.60" stroke="#d9dbda" stroke-width="0.9" fill="none"/><path d="M567.50 0 V476.30" stroke="#c9c9c9" stroke-width="1" stroke-dasharray="2 2"/></g><ellipse cx="311.50" cy="331.90" rx="5" ry="5" stroke="#1a1a1a" stroke-width="0.8" fill="none" fill="#fff"/><path d="M311.50 336.90 V353.57 M301.50 340.23 H321.50 M311.50 353.57 L301.50 366.90 M311.50 353.57 L321.50 366.90" stroke="#1a1a1a" stroke-width="0.8" fill="none"/><ellipse cx="701.50" cy="331.90" rx="5" ry="5" stroke="#1a1a1a" stroke-width="0.8" fill="none" fill="#fff"/><path d="M701.50 336.90 V353.57 M691.50 340.23 H711.50 M701.50 353.57 L691.50 366.90 M701.50 353.57 L711.50 366.90" stroke="#1a1a1a" stroke-width="0.8" fill="none"/><path d="M319.40 346.60 H440.40" stroke="#1a1a1a" stroke-width="0.8"/><path d="M315.40 346.60 L321.00 344.40 L319.60 346.60 L321.00 348.80Z" fill="#111" stroke="#111" stroke-width="0.5" stroke-linejoin="miter"/><path d="M444.40 346.60 L438.80 344.40 L440.20 346.60 L438.80 348.80Z" fill="#111" stroke="#111" stroke-width="0.5" stroke-linejoin="miter"/><path d="M545.80 346.60 H674.30" stroke="#1a1a1a" stroke-width="0.8"/><path d="M541.80 346.60 L547.40 344.40 L546.00 346.60 L547.40 348.80Z" fill="#111" stroke="#111" stroke-width="0.5" stroke-linejoin="miter"/><path d="M678.30 346.60 L672.70 344.40 L674.10 346.60 L672.70 348.80Z" fill="#111" stroke="#111" stroke-width="0.5" stroke-linejoin="miter"/><rect x="451.50" y="333.50" width="80" height="40" stroke="#1a1a1a" stroke-width="0.8" fill="#fff"/><path d="M459.50 333.50 V373.50 M523.50 333.50 V373.50" stroke="#1a1a1a" stroke-width="0.8" fill="#fff"/><ellipse cx="311.50" cy="618.50" rx="5" ry="5" stroke="#1a1a1a" stroke-width="0.8" fill="none" fill="#fff"/><path d="M311.50 623.50 V640.17 M301.50 626.83 H321.50 M311.50 640.17 L301.50 653.50 M311.50 640.17 L321.50 653.50" stroke="#1a1a1a" stroke-width="0.8" fill="none"/><ellipse cx="701.50" cy="618.50" rx="5" ry="5" stroke="#1a1a1a" stroke-width="0.8" fill="none" fill="#fff"/><path d="M701.50 623.50 V640.17 M691.50 626.83 H711.50 M701.50 640.17 L691.50 653.50 M701.50 640.17 L711.50 653.50" stroke="#1a1a1a" stroke-width="0.8" fill="none"/><path d="M319.40 633.20 H440.40" stroke="#1a1a1a" stroke-width="0.8"/><path d="M315.40 633.20 L321.00 631.00 L319.60 633.20 L321.00 635.40Z" fill="#111" stroke="#111" stroke-width="0.5" stroke-linejoin="miter"/><path d="M444.40 633.20 L438.80 631.00 L440.20 633.20 L438.80 635.40Z" fill="#111" stroke="#111" stroke-width="0.5" stroke-linejoin="miter"/><path d="M545.80 633.20 H674.30" stroke="#1a1a1a" stroke-width="0.8"/><path d="M541.80 633.20 L547.40 631.00 L546.00 633.20 L547.40 635.40Z" fill="#111" stroke="#111" stroke-width="0.5" stroke-linejoin="miter"/><path d="M678.30 633.20 L672.70 631.00 L674.10 633.20 L672.70 635.40Z" fill="#111" stroke="#111" stroke-width="0.5" stroke-linejoin="miter"/><rect x="451.50" y="620.10" width="80" height="40" stroke="#1a1a1a" stroke-width="0.8" fill="#fff"/><path d="M459.50 620.10 V660.10 M523.50 620.10 V660.10" stroke="#1a1a1a" stroke-width="0.8" fill="#fff"/><rect x="808.20" y="187.00" width="180" height="273.2" fill="none" stroke="#000" stroke-width="2" stroke-dasharray="6 6"/></svg>
<span class="t" style="left:388.20px;top:192.86px;font-size:16px;color:#000;font-weight:700;transform:scaleX(0.9860);transform-origin:0 50%;">Scenario 1</span>
<span class="t" style="left:388.30px;top:221.94px;font-size:10px;color:#0c0c0c;word-spacing:0.000px">Juan and Vitalik subscribe to channel 1.</span>
<span class="t" style="left:388.30px;top:240.94px;font-size:10px;color:#0c0c0c;word-spacing:0.000px">Juan sends a message to Vitalik, Vitalik answers her.</span>
<span class="t" style="left:388.30px;top:259.54px;font-size:10px;color:#0c0c0c;word-spacing:0.452px">Juan sends the file <b>challenge.pdf</b> to Vitalik. The server cannot process it</span>
<span class="t" style="left:388.30px;top:271.74px;font-size:10px;color:#0c0c0c;word-spacing:0.000px">because it is too large.</span>
<span class="t" style="left:388.30px;top:289.94px;font-size:10px;color:#0c0c0c;word-spacing:2.609px">Juan sends the <b>challenge.zip</b> file to Vitalik. The server processes it.</span>
<span class="t" style="left:388.30px;top:301.94px;font-size:10px;color:#0c0c0c;word-spacing:0.000px">Vitalik receives it and saves it in his channel folder.</span>
<span class="t" style="left:334.90px;top:465.96px;font-size:16px;color:#000;font-weight:700;transform:scaleX(0.9922);transform-origin:0 50%;">Scenario 2</span>
<span class="t" style="left:335.00px;top:496.04px;font-size:10px;color:#0c0c0c;word-spacing:0.000px">Two new clients arrive: Monica and Abbey</span>
<span class="t" style="left:335.00px;top:513.93px;font-size:10px;color:#0c0c0c;word-spacing:0.000px">They want to send messages or files without first subscribing to a channel. The server warns them that they cannot.</span>
<span class="t" style="left:335.00px;top:533.33px;font-size:10px;color:#0c0c0c;word-spacing:0.000px">They don't know how the server works, so they go to <b>instructions</b> to see the available commands.</span>
<span class="t" style="left:335.00px;top:552.13px;font-size:10px;color:#0c0c0c;word-spacing:1.234px">They both decide to subscribe to channel "eight". But the Server tells them that numbers must be chosen for the</span>
<span class="t" style="left:335.00px;top:564.03px;font-size:10px;color:#0c0c0c;word-spacing:0.000px">channel.</span>
<span class="t" style="left:335.00px;top:581.93px;font-size:10px;color:#0c0c0c;word-spacing:0.000px">Finally, they subscribe to channel 8.</span>
<span class="t" style="left:331.10px;top:333.26px;font-size:8px;color:#111;">challenge.pdf</span>
<span class="t" style="left:378.05px;top:359.06px;font-size:8px;color:#111;">challenge.zip</span>
<span class="t" style="left:475.32px;top:349.76px;font-size:8px;color:#111;">SERVER</span>
<span class="t" style="left:475.32px;top:636.36px;font-size:8px;color:#111;">SERVER</span>
<span class="t" style="left:303.02px;top:372.16px;font-size:8px;color:#111;">Juan</span>
<span class="t" style="left:293.16px;top:399.56px;font-size:8px;color:#111;">Channel 1</span>
<span class="t" style="left:452.39px;top:381.76px;font-size:8px;color:#111;">challenge.pdf is TOO LARGE</span>
<span class="t" style="left:470.25px;top:391.36px;font-size:8px;color:#111;">challenge.zip is OK</span>
<span class="t" style="left:691.10px;top:372.16px;font-size:8px;color:#111;">Vitalik</span>
<span class="t" style="left:683.16px;top:392.76px;font-size:8px;color:#111;">Channel 1</span>
<span class="t" style="left:725.25px;top:338.06px;font-size:8px;color:#111;">Received and saved</span>
<span class="t" style="left:738.15px;top:347.86px;font-size:8px;color:#111;">challenge.zip</span>
<span class="t" style="left:812.00px;top:192.46px;font-size:16px;color:#000;font-weight:700;transform:scaleX(0.9599);transform-origin:0 50%;">Files</span>
<span class="t" style="left:812.00px;top:221.36px;font-size:8px;color:#000;font-weight:700;transform:scaleX(0.9746);transform-origin:0 50%;">TCP Limit-&gt;</span>
<div class="abs" style="left:811.8px;top:231.2px;width:33.6px;height:9.6px;background:#1f1f1f"></div>
<span class="t" style="left:812.20px;top:232.36px;font-size:8px;color:#f0f0f0;font-weight:700;transform:scaleX(1.1106);transform-origin:0 50%;">65.4 KB</span>
<span class="t" style="left:812.00px;top:254.36px;font-size:8px;color:#000;font-weight:700;transform:scaleX(0.9853);transform-origin:0 50%;">Server Limit-&gt;</span>
<div class="abs" style="left:867.4px;top:252.4px;width:36px;height:10.2px;background:#2a1f33"></div>
<span class="t" style="left:868.00px;top:253.98px;font-size:8.4px;color:#e9a08a;font-family:'Liberation Mono',monospace;transform:scaleX(0.9863);transform-origin:0 50%;">50.5 KB</span>
<span class="t" style="left:812.00px;top:274.06px;font-size:8px;color:#111;white-space:pre;">challenge.pdf -&gt; 55.3 KB (TOO LARGE)</span>
<span class="t" style="left:812.00px;top:293.26px;font-size:8px;color:#111;white-space:pre;">challenge.zip -&gt;  49.0 KB</span>
<span class="t" style="left:812.00px;top:312.86px;font-size:8px;color:#111;white-space:pre;">file1.txt -&gt; 19 B</span>
<span class="t" style="left:812.00px;top:331.36px;font-size:8px;color:#111;white-space:pre;">file2.txt -&gt; 27 B</span>
<span class="t" style="left:812.00px;top:350.36px;font-size:8px;color:#111;white-space:pre;">file3.txt -&gt; 27 B</span>
<span class="t" style="left:812.00px;top:370.06px;font-size:8px;color:#111;white-space:pre;">image.png -&gt; 2.56 KB</span>
<span class="t" style="left:812.00px;top:389.36px;font-size:8px;color:#111;white-space:pre;">layers.png -&gt; 12.9 KB</span>
<span class="t" style="left:812.00px;top:408.66px;font-size:8px;color:#111;white-space:pre;">secondpdf.pdf -&gt; 32.4 KB</span>
<span class="t" style="left:812.00px;top:427.36px;font-size:8px;color:#111;white-space:pre;">toBig.jpg -&gt; 85.4 KB (TOO LARGE)</span>
<span class="t" style="left:812.00px;top:446.96px;font-size:8px;color:#111;white-space:pre;">word.docx -&gt; 6.26 KB</span>
<div class="abs" style="left:1112.3px;top:138px;width:7.4px;height:520px;background:#f9faf9"></div>
<div class="abs" style="left:1115px;top:236px;width:3px;height:102px;background:#d9dbda;border-radius:1.5px"></div>
<!-- rightpanel -->
<div class="abs" style="left:1119.7px;top:138px;width:160.3px;height:550px;background:#fbfbfb"></div>
<div class="abs" style="left:1119.2px;top:138px;width:1px;height:550px;background:#e2e2e2"></div>
<div class="abs" style="left:1191px;top:138px;width:89px;height:21.8px;background:#eeeeee;border-bottom:1px solid #dcdcdc;border-left:1px solid #dcdcdc"></div>
<div class="abs" style="left:1262px;top:138px;width:1px;height:21.8px;background:#dcdcdc"></div>
<span class="t" style="left:1136.49px;top:145.12px;font-size:9.4px;color:#333;font-weight:700;transform:scaleX(0.9305);transform-origin:50% 50%;">Diagram</span>
<span class="t" style="left:1215.47px;top:145.12px;font-size:9.4px;color:#333;font-weight:700;transform:scaleX(0.8902);transform-origin:50% 50%;">Style</span>
<svg class="abs" style="left:1268.3px;top:146px;" width="5.4" height="5.4" viewBox="0 0 5.4 5.4"><path d="M0.3 0.3 L5.1 5.1 M5.1 0.3 L0.3 5.1" stroke="#a8b4c4" stroke-width="0.9"/></svg>
<span class="t" style="left:1129.60px;top:172.00px;font-size:8.8px;color:#444;font-weight:700;transform:scaleX(0.9047);transform-origin:0 50%;">View</span>
<svg class="abs" style="left:1129.3px;top:187.5px;" width="8.6" height="8.6" viewBox="0 0 8.6 8.6"><rect x="0" y="0" width="8.6" height="8.6" rx="1.4" fill="#1a6fe0"/><path d="M1.9 4.5 L3.6 6.2 L6.8 2.4" stroke="#fff" stroke-width="1.3" fill="none"/></svg>
<span class="t" style="left:1142.20px;top:188.18px;font-size:8.4px;color:#7d7d7d;transform:scaleX(0.9200);transform-origin:0 50%;">Grid</span>
<svg class="abs" style="left:1129.3px;top:203.7px;" width="8.6" height="8.6" viewBox="0 0 8.6 8.6"><rect x="0" y="0" width="8.6" height="8.6" rx="1.4" fill="#1a6fe0"/><path d="M1.9 4.5 L3.6 6.2 L6.8 2.4" stroke="#fff" stroke-width="1.3" fill="none"/></svg>
<span class="t" style="left:1142.20px;top:204.38px;font-size:8.4px;color:#7d7d7d;transform:scaleX(0.9098);transform-origin:0 50%;">Page View</span>
<svg class="abs" style="left:1129.3px;top:219.7px;" width="8.6" height="8.6" viewBox="0 0 8.6 8.6"><rect x="0.4" y="0.4" width="7.8" height="7.8" rx="1.4" fill="#fff" stroke="#8a8a8a" stroke-width="0.8"/></svg>
<span class="t" style="left:1142.20px;top:220.38px;font-size:8.4px;color:#7d7d7d;transform:scaleX(0.9458);transform-origin:0 50%;">Background</span>
<svg class="abs" style="left:1129.3px;top:235.7px;" width="8.6" height="8.6" viewBox="0 0 8.6 8.6"><rect x="0.4" y="0.4" width="7.8" height="7.8" rx="1.4" fill="#fff" stroke="#8a8a8a" stroke-width="0.8"/></svg>
<span class="t" style="left:1142.20px;top:236.38px;font-size:8.4px;color:#7d7d7d;transform:scaleX(0.9224);transform-origin:0 50%;">Shadow</span>
<div class="abs" style="left:1196px;top:185.8px;width:31.2px;height:13.4px;background:#fff;border:1px solid #b8b8b8;border-radius:2px"></div>
<span class="t" style="left:1207.12px;top:188.58px;font-size:8.4px;color:#222;transform:scaleX(0.9420);transform-origin:100% 50%;">10 pt</span>
<svg class="abs" style="left:1228.4px;top:186.4px;" width="6.4" height="12.4" viewBox="0 0 6.4 12.4"><rect x="0.3" y="0.3" width="5.8" height="5.6" rx="1" fill="#f2f2f2" stroke="#c4c4c4" stroke-width="0.6"/><rect x="0.3" y="6.5" width="5.8" height="5.6" rx="1" fill="#f2f2f2" stroke="#c4c4c4" stroke-width="0.6"/><path d="M1.6 4 L3.2 2.2 L4.8 4 M1.6 8.4 L3.2 10.2 L4.8 8.4" stroke="#777" stroke-width="0.7" fill="none"/></svg>
<div class="abs" style="left:1239px;top:184.8px;width:30px;height:14.4px;background:#efefef;border:1px solid #8a8a8a;border-radius:2.5px"></div>
<div class="abs" style="left:1241.6px;top:187.4px;width:24.8px;height:9.2px;background:#d0d0d0;border:1px solid #3a3a3a"></div>
<div class="abs" style="left:1198.8px;top:216.8px;width:37px;height:14.2px;background:#efefef;border:1px solid #9c9c9c;border-radius:2.5px"></div>
<span class="t" style="left:1205.63px;top:220.18px;font-size:8.4px;color:#222;">Image</span>
<div class="abs" style="left:1120px;top:256.2px;width:160px;height:1px;background:#e4e4e4"></div>
<span class="t" style="left:1129.60px;top:267.40px;font-size:8.8px;color:#444;font-weight:700;transform:scaleX(0.8905);transform-origin:0 50%;">Options</span>
<svg class="abs" style="left:1129.3px;top:283.2px;" width="8.6" height="8.6" viewBox="0 0 8.6 8.6"><rect x="0" y="0" width="8.6" height="8.6" rx="1.4" fill="#1a6fe0"/><path d="M1.9 4.5 L3.6 6.2 L6.8 2.4" stroke="#fff" stroke-width="1.3" fill="none"/></svg>
<span class="t" style="left:1142.20px;top:283.88px;font-size:8.4px;color:#7d7d7d;transform:scaleX(0.9503);transform-origin:0 50%;">Connection Arrows</span>
<svg class="abs" style="left:1129.3px;top:299.4px;" width="8.6" height="8.6" viewBox="0 0 8.6 8.6"><rect x="0" y="0" width="8.6" height="8.6" rx="1.4" fill="#1a6fe0"/><path d="M1.9 4.5 L3.6 6.2 L6.8 2.4" stroke="#fff" stroke-width="1.3" fill="none"/></svg>
<span class="t" style="left:1142.20px;top:300.08px;font-size:8.4px;color:#7d7d7d;transform:scaleX(0.9387);transform-origin:0 50%;">Connection Points</span>
<svg class="abs" style="left:1129.3px;top:315.4px;" width="8.6" height="8.6" viewBox="0 0 8.6 8.6"><rect x="0" y="0" width="8.6" height="8.6" rx="1.4" fill="#1a6fe0"/><path d="M1.9 4.5 L3.6 6.2 L6.8 2.4" stroke="#fff" stroke-width="1.3" fill="none"/></svg>
<span class="t" style="left:1142.20px;top:316.08px;font-size:8.4px;color:#7d7d7d;transform:scaleX(0.9017);transform-origin:0 50%;">Guides</span>
<svg class="abs" style="left:1129.3px;top:331.2px;" width="8.6" height="8.6" viewBox="0 0 8.6 8.6"><rect x="0" y="0" width="8.6" height="8.6" rx="1.4" fill="#1a6fe0"/><path d="M1.9 4.5 L3.6 6.2 L6.8 2.4" stroke="#fff" stroke-width="1.3" fill="none"/></svg>
<span class="t" style="left:1142.20px;top:331.88px;font-size:8.4px;color:#7d7d7d;transform:scaleX(0.9251);transform-origin:0 50%;">Autosave</span>
<div class="abs" style="left:1120px;top:351.2px;width:160px;height:1px;background:#e4e4e4"></div>
<span class="t" style="left:1129.60px;top:362.60px;font-size:8.8px;color:#444;font-weight:700;transform:scaleX(0.8627);transform-origin:0 50%;">Paper Size</span>
<div class="abs" style="left:1129px;top:375.3px;width:137.8px;height:11.8px;background:#fff;border:1px solid #a9a9a9;border-radius:2px"></div>
<span class="t" style="left:1132.60px;top:377.58px;font-size:8.4px;color:#111;transform:scaleX(0.9557);transform-origin:0 50%;">US-Letter (8,5" x 11")</span>
<svg class="abs" style="left:1257px;top:379.2px;" width="6" height="4.2" viewBox="0 0 6 4.2"><path d="M0.6 0.6 L3 3.2 L5.4 0.6" stroke="#111" stroke-width="1.2" fill="none"/></svg>
<svg class="abs" style="left:1135px;top:395px;" width="9" height="9" viewBox="0 0 9 9"><circle cx="4.5" cy="4.5" r="3.9" fill="#fff" stroke="#1a6fe0" stroke-width="1"/><circle cx="4.5" cy="4.5" r="2.2" fill="#1a6fe0"/></svg>
<span class="t" style="left:1148.00px;top:395.98px;font-size:8.4px;color:#7d7d7d;transform:scaleX(0.9603);transform-origin:0 50%;">Portrait</span>
<svg class="abs" style="left:1180.2px;top:395px;" width="9" height="9" viewBox="0 0 9 9"><circle cx="4.5" cy="4.5" r="3.9" fill="#fff" stroke="#8a8a8a" stroke-width="0.8"/></svg>
<span class="t" style="left:1193.30px;top:395.98px;font-size:8.4px;color:#7d7d7d;transform:scaleX(0.9002);transform-origin:0 50%;">Landscape</span>
<div class="abs" style="left:1120px;top:415.8px;width:160px;height:1px;background:#e4e4e4"></div>
<div class="abs" style="left:1129px;top:425.3px;width:140.5px;height:13.2px;background:#efefef;border:1px solid #a2a2a2;border-radius:2.5px"></div>
<span class="t" style="left:1178.42px;top:428.28px;font-size:8.4px;color:#1a1a1a;">Edit Data...</span>
<div class="abs" style="left:1129px;top:440.2px;width:140.5px;height:13.2px;background:#efefef;border:1px solid #a2a2a2;border-radius:2.5px"></div>
<span class="t" style="left:1164.18px;top:443.18px;font-size:8.4px;color:#1a1a1a;">Clear Default Style</span>
<div class="abs" style="left:1120px;top:462.8px;width:160px;height:1px;background:#e4e4e4"></div>
<!-- bottom -->
<div class="abs" style="left:150.5px;top:656.3px;width:969.2px;height:6px;background:#f7f8f7"></div>
<div class="abs" style="left:150.5px;top:662px;width:969.2px;height:26px;background:#f2f4f3"></div>
<div class="abs" style="left:150.5px;top:661.6px;width:969.2px;height:1px;background:#eceeed"></div>
<svg class="abs" style="left:158.8px;top:669.4px;" width="3" height="11" viewBox="0 0 3 11"><circle cx="1.5" cy="1.5" r="1" fill="#8a8a8a"/><circle cx="1.5" cy="5.2" r="1" fill="#8a8a8a"/><circle cx="1.5" cy="8.9" r="1" fill="#8a8a8a"/></svg>
<div class="abs" style="left:170px;top:662.6px;width:92px;height:25.4px;background:#eef0ef"></div>
<span class="t" style="left:199.99px;top:673.00px;font-size:8.8px;color:#8a8a8a;transform:scaleX(0.9733);transform-origin:50% 50%;">español</span>
<div class="abs" style="left:262px;top:662.6px;width:92px;height:25.4px;background:#fff"></div>
<div class="abs" style="left:372.4px;top:662.6px;width:1px;height:25.4px;background:#eaecea"></div>
<span class="t" style="left:291.85px;top:673.11px;font-size:9px;color:#d9762b;font-weight:700;transform:scaleX(0.9206);transform-origin:50% 50%;">english</span>
<svg class="abs" style="left:359.8px;top:669.6px;" width="8.4" height="8.4" viewBox="0 0 8.4 8.4"><path d="M4.2 0 V8.4 M0 4.2 H8.4" stroke="#777" stroke-width="1.5"/></svg>
<div class="abs" style="left:429px;top:657.6px;width:302px;height:2.6px;background:#d3d5d4;border-radius:1.3px"></div>
<div class="abs" style="left:0px;top:688px;width:1280px;height:32px;background:#202020"></div>
<svg class="abs" style="left:13px;top:697.6px;" width="17" height="12" viewBox="0 0 17 12"><path d="M4.2 11 C1.6 11 0.4 9.4 0.4 7.8 C0.4 6 1.8 4.8 3.4 4.8 C3.8 2.4 5.6 0.8 8 0.8 C10.4 0.8 12 2.2 12.6 4.2 C14.8 4.2 16.4 5.6 16.4 7.6 C16.4 9.6 14.8 11 12.8 11Z" fill="#dfe8f7"/><path d="M4.2 11 C1.6 11 0.4 9.4 0.4 7.8 C0.4 6.6 1.2 5.6 2.2 5.2 C4 8.4 10 9.6 16 9 C15.4 10.2 14.2 11 12.8 11Z" fill="#a9c1ec"/></svg>
<span class="t" style="left:34.40px;top:696.00px;font-size:8.8px;color:#f4f4f4;transform:scaleX(0.8443);transform-origin:0 50%;-webkit-text-stroke:0.25px #f4f4f4;">26°C</span>
<span class="t" style="left:34.20px;top:706.60px;font-size:8.8px;color:#d4d4d4;transform:scaleX(0.9397);transform-origin:0 50%;-webkit-text-stroke:0.2px #d4d4d4;">Nublado</span>
<span class="t" style="left:1236.37px;top:694.69px;font-size:8.6px;color:#f2f2f2;transform:scaleX(0.8930);transform-origin:100% 50%;-webkit-text-stroke:0.15px #f2f2f2;">6:04 PM</span>
<span class="t" style="left:1225.36px;top:705.89px;font-size:8.6px;color:#f2f2f2;transform:scaleX(0.9294);transform-origin:100% 50%;-webkit-text-stroke:0.15px #f2f2f2;">10/25/2022</span>
<svg class="abs" style="left:456.8px;top:696.4px;" width="14.4" height="14.4" viewBox="0 0 14.4 14.4"><defs><linearGradient id="wg" x1="0" y1="0" x2="1" y2="1"><stop offset="0" stop-color="#6fd6fb"/><stop offset="1" stop-color="#1b8fe6"/></linearGradient></defs><rect x="0" y="0" width="6.8" height="6.8" rx="0.6" fill="url(#wg)"/><rect x="7.6" y="0" width="6.8" height="6.8" rx="0.6" fill="url(#wg)"/><rect x="0" y="7.6" width="6.8" height="6.8" rx="0.6" fill="url(#wg)"/><rect x="7.6" y="7.6" width="6.8" height="6.8" rx="0.6" fill="url(#wg)"/></svg>
<svg class="abs" style="left:486px;top:696.4px;" width="14.4" height="14.4" viewBox="0 0 14.4 14.4"><circle cx="8.4" cy="6" r="4.6" stroke="#f4f4f4" stroke-width="1.5" fill="#454545"/><path d="M5.2 9.4 L1.2 13.4" stroke="#f4f4f4" stroke-width="1.8" stroke-linecap="round"/></svg>
<svg class="abs" style="left:515.6px;top:697px;" width="14.4" height="13" viewBox="0 0 14.4 13"><rect x="0.4" y="3.6" width="9.6" height="8.8" rx="1" fill="#7a7a7a"/><rect x="3.6" y="0.4" width="10.4" height="9.2" rx="1" fill="#efefef"/><rect x="5.4" y="3.6" width="5.6" height="5" fill="#bdbdbd"/></svg>
<svg class="abs" style="left:544.6px;top:696.4px;" width="15" height="14.6" viewBox="0 0 15 14.6"><path d="M7.5 0.6 A6.8 6.8 0 1 1 3.4 12.8 L0.8 13.8 L1.6 11 A6.8 6.8 0 0 1 7.5 0.6Z" fill="#7b83eb"/><rect x="3.6" y="4.6" width="5.6" height="5" rx="1" fill="#fff"/><path d="M9.6 6.4 L11.8 4.8 V9.4 L9.6 7.8Z" fill="#fff"/></svg>
<svg class="abs" style="left:574.4px;top:697px;" width="15.4" height="13.4" viewBox="0 0 15.4 13.4"><path d="M0.4 1.6 A1 1 0 0 1 1.4 0.6 H5.4 L7 2.2 H14 A1 1 0 0 1 15 3.2 V12 A1 1 0 0 1 14 13 H1.4 A1 1 0 0 1 0.4 12Z" fill="#f5b800"/><path d="M0.4 4.4 H15 V12 A1 1 0 0 1 14 13 H1.4 A1 1 0 0 1 0.4 12Z" fill="#ffd75e"/><rect x="4.4" y="9" width="6.6" height="4" rx="0.6" fill="#2b88d8"/></svg>
<div class="abs" style="left:597.6px;top:690.6px;width:27px;height:27px;background:#2e2e2e;border-radius:3px"></div>
<svg class="abs" style="left:603.6px;top:696.2px;" width="15" height="15" viewBox="0 0 15 15"><circle cx="7.5" cy="7.5" r="7.3" fill="#fff"/><path d="M7.5 7.5 L1.2 3.85 A7.3 7.3 0 0 1 13.8 3.85Z" fill="#ea4335"/><path d="M7.5 7.5 L13.8 3.85 A7.3 7.3 0 0 1 7.5 14.8Z" fill="#fbbc04"/><path d="M7.5 7.5 L7.5 14.8 A7.3 7.3 0 0 1 1.2 3.85Z" fill="#34a853"/><circle cx="7.5" cy="7.5" r="3.4" fill="#fff"/><circle cx="7.5" cy="7.5" r="2.6" fill="#4285f4"/></svg>
<svg class="abs" style="left:611.6px;top:692.6px;" width="9" height="9" viewBox="0 0 9 9"><circle cx="4.5" cy="4.5" r="4.3" fill="#8f949c"/><path d="M2.6 9 V5 C2.6 3.4 3.4 2.2 4.5 2.2 C5.6 2.2 6.4 3.4 6.4 5 V9Z" fill="#2f3036"/></svg>
<div class="abs" style="left:606px;top:714.8px;width:10.4px;height:1.6px;background:#f09a86;border-radius:0.8px"></div>
<svg class="abs" style="left:632.6px;top:696.2px;" width="15" height="15" viewBox="0 0 15 15"><circle cx="7.5" cy="7.5" r="7.4" fill="#5865f2"/><path d="M3.4 10.2 C3.4 7.8 4.2 5.8 4.8 5 C5.6 4.6 6.2 4.4 6.6 4.4 L6.9 4.9 H8.1 L8.4 4.4 C8.8 4.4 9.4 4.6 10.2 5 C10.8 5.8 11.6 7.8 11.6 10.2 C11 10.8 10.2 11 9.6 11 L9.2 10.3 C8.2 10.6 6.8 10.6 5.8 10.3 L5.4 11 C4.8 11 4 10.8 3.4 10.2Z" fill="#fff"/><ellipse cx="6.1" cy="8" rx="0.9" ry="1" fill="#5865f2"/><ellipse cx="8.9" cy="8" rx="0.9" ry="1" fill="#5865f2"/></svg>
<svg class="abs" style="left:662.4px;top:696.2px;" width="15" height="15" viewBox="0 0 15 15"><circle cx="7.5" cy="7.5" r="7.4" fill="#fff"/><rect x="6" y="2.6" width="1.6" height="4.2" rx="0.8" fill="#36c5f0"/><rect x="3.4" y="5.2" width="2.2" height="1.6" rx="0.8" fill="#36c5f0"/><rect x="8.2" y="6" width="4.2" height="1.6" rx="0.8" fill="#2eb67d"/><rect x="8.2" y="3.4" width="1.6" height="2.2" rx="0.8" fill="#2eb67d"/><rect x="7.4" y="8.2" width="1.6" height="4.2" rx="0.8" fill="#ecb22e"/><rect x="9.4" y="8.2" width="2.2" height="1.6" rx="0.8" fill="#ecb22e"/><rect x="2.6" y="7.4" width="4.2" height="1.6" rx="0.8" fill="#e01e5a"/><rect x="5.2" y="9.4" width="1.6" height="2.2" rx="0.8" fill="#e01e5a"/></svg>
<svg class="abs" style="left:691.6px;top:696.4px;" width="15" height="14.6" viewBox="0 0 15 14.6"><path d="M10.8 0.4 L14.6 2.2 V12.4 L10.8 14.2 L3.8 7.8 L1.4 9.8 L0.4 9.2 V5.4 L1.4 4.8 L3.8 6.8Z" fill="#1f9cf0"/><path d="M10.8 4.4 L6.4 7.3 L10.8 10.2Z" fill="#202020"/><path d="M10.8 0.4 L14.6 2.2 V12.4 L10.8 14.2Z" fill="#0f74c4"/></svg>
<div class="abs" style="left:697.4px;top:715px;width:3.6px;height:1.4px;background:#9a9a9a;border-radius:0.7px"></div>
<svg class="abs" style="left:721px;top:697.2px;" width="15" height="12.8" viewBox="0 0 15 12.8"><rect x="0.2" y="0.2" width="14.6" height="12.4" rx="1.2" fill="#3a3a3a"/><rect x="0.2" y="0.2" width="14.6" height="2.4" rx="1" fill="#8a8a8a"/><path d="M2.4 5 L5 7 L2.4 9 M6.4 9.6 H10" stroke="#fff" stroke-width="1" fill="none"/></svg>
<svg class="abs" style="left:750.4px;top:696.6px;" width="14" height="14" viewBox="0 0 14 14"><rect x="0.8" y="0.8" width="12.4" height="12.4" rx="1.4" fill="#fff" stroke="#111" stroke-width="1.2"/><path d="M4.2 10.4 V3.8 L9.6 10.2 V3.6 M3.2 3.8 H5.4 M8.6 3.6 H10.6 M3.2 10.4 H5.4 M8.4 10.2 H10.4" stroke="#111" stroke-width="1.1" fill="none"/></svg>
<svg class="abs" style="left:779.6px;top:696.2px;" width="15" height="15" viewBox="0 0 15 15"><circle cx="7.5" cy="7.5" r="7.4" fill="#1ed760"/><path d="M3.4 5.4 C6.4 4.4 9.6 4.8 12 6.2 M3.8 7.8 C6.2 7 9 7.4 11 8.6 M4.4 10 C6.4 9.4 8.4 9.6 10 10.6" stroke="#111" stroke-width="1.2" fill="none" stroke-linecap="round"/></svg>
<svg class="abs" style="left:809px;top:696.8px;" width="15" height="15" viewBox="0 0 15 15"><path d="M7.5 0.6 A6.8 6.8 0 1 1 4 13.2 L0.6 14.2 L1.6 10.9 A6.8 6.8 0 0 1 7.5 0.6Z" fill="#2bd366"/><path d="M7.5 1.8 A5.6 5.6 0 1 1 4.3 12 L2.4 12.5 L2.9 10.7 A5.6 5.6 0 0 1 7.5 1.8Z" fill="none" stroke="#fff" stroke-width="0.9"/><path d="M5.2 4.4 C4.4 5 4.4 6.4 5.6 8 C6.8 9.6 8.6 10.6 9.8 10.2 C10.4 10 10.8 9.4 10.6 9 L9.2 8.2 L8.6 8.9 C7.8 8.6 6.8 7.6 6.4 6.8 L7 6.2 L6.2 4.6Z" fill="#fff"/></svg>
<svg class="abs" style="left:819.6px;top:692.4px;" width="9.6" height="9.6" viewBox="0 0 9.6 9.6"><circle cx="4.8" cy="4.8" r="4.8" fill="#e8735f"/></svg>
<span class="t" style="left:821.06px;top:694.47px;font-size:6px;color:#3a1008;transform:scaleX(0.8989);transform-origin:50% 50%;">17</span>
</div></body></html>
